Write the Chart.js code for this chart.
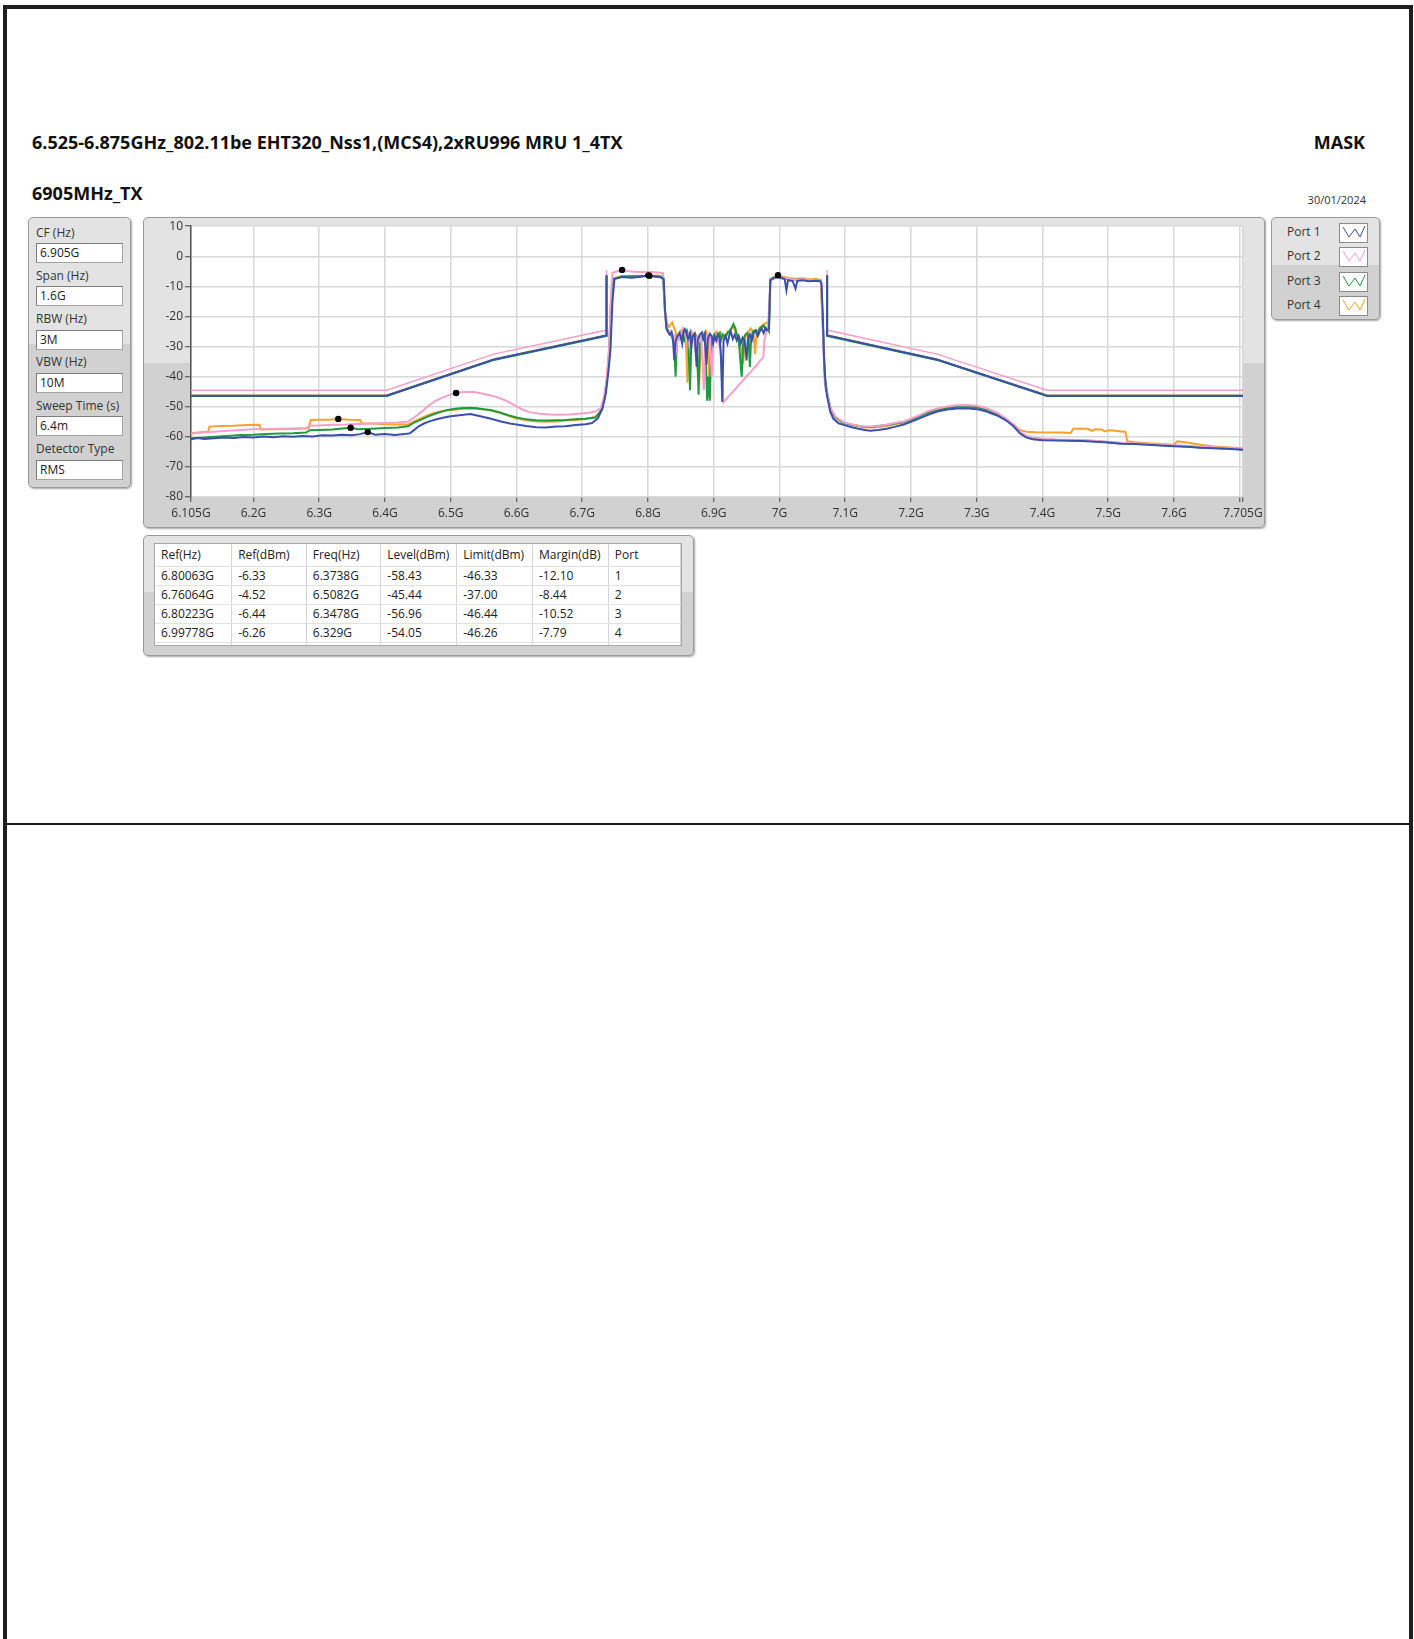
<!DOCTYPE html>
<html>
<head>
<meta charset="utf-8">
<script src="https://cdn.jsdelivr.net/npm/chart.js@4.4.1/dist/chart.umd.min.js"></script>
<style>
  html, body { margin: 0; padding: 0; background: #fff; }
  body { width: 1414px; height: 1639px; position: relative; overflow: hidden;
         font-family: "Open Sans", "Noto Sans", sans-serif; color: #222; }
  .frame { position: absolute; left: 3px; top: 5px; width: 1402px; height: 1650px;
           border: 4px solid #1e1e1e; border-bottom: none; }
  .divider { position: absolute; left: 7px; top: 823px; width: 1402px; height: 2px; background: #1e1e1e; }
  .txt { position: absolute; white-space: nowrap; line-height: 1; }
  .title { font-weight: 700; font-size: 18px; color: #111; }
  .panel { position: absolute; box-sizing: border-box; border: 1px solid #9a9a9a; border-radius: 5px;
           background: linear-gradient(#e3e3e3 0, #e3e3e3 47%, #d1d1d1 47%, #d1d1d1 100%);
           box-shadow: 1px 1px 2px rgba(0,0,0,0.35); }
  .plabel { position: absolute; left: 7px; font-size: 12px; color: #333; line-height: 1; }
  .pinput { position: absolute; left: 7px; width: 87px; height: 20px; box-sizing: border-box; background: #fff;
            border: 1px solid #a5a5a5; border-top-color: #7d7d7d; border-left-color: #7d7d7d;
            font-size: 12px; line-height: 18px; padding-left: 3px; color: #222; }
  .lgrow { position: absolute; left: 15px; font-size: 12px; color: #333; line-height: 1; }
  .lgsw { position: absolute; left: 67px; width: 29px; height: 20px; }
  #chartCanvas { position: absolute; left: 143px; top: 217px; }
  .tblwrap { position: absolute; left: 154px; top: 543px; width: 528px; height: 103px; background: #fff;
             border: 1px solid #a8a8a8; box-sizing: border-box; overflow: hidden; }
  table { border-collapse: collapse; table-layout: fixed; font-size: 12px; color: #222; }
  td { border-right: 1px solid #d4d4d4; border-bottom: 1px solid #e2e2e2; padding: 0 0 0 6px;
       height: 18px; line-height: 18px; white-space: nowrap; overflow: hidden; }
  tr.hdr td { height: 22px; line-height: 22px; }
</style>
</head>
<body>
<div class="frame"></div>
<div class="divider"></div>

<div class="txt title" style="left:32px; top:133px;">6.525-6.875GHz_802.11be EHT320_Nss1,(MCS4),2xRU996 MRU 1_4TX</div>
<div class="txt title" style="right:49px; top:133px;">MASK</div>
<div class="txt title" style="left:32px; top:184px;">6905MHz_TX</div>
<div class="txt" style="right:48px; top:194px; font-size:11px; color:#333;">30/01/2024</div>

<div class="panel" style="left:28px; top:217px; width:103px; height:271px;" id="paramPanel"></div>
<div class="panel" style="left:143px; top:217px; width:1122px; height:311px;"></div>
<div class="panel" style="left:1271px; top:217px; width:109px; height:103px;" id="legendPanel"></div>
<div class="panel" style="left:143px; top:535px; width:551px; height:121px;"></div>
<div class="tblwrap"><table id="markerTable"></table></div>

<canvas id="chartCanvas" width="1121" height="310"></canvas>

<script>
// ---- measurement settings (left panel) ----
const paramNames = ["CF (Hz)", "Span (Hz)", "RBW (Hz)", "VBW (Hz)", "Sweep Time (s)", "Detector Type"];
const paramValues = ["6.905G", "1.6G", "3M", "10M", "6.4m", "RMS"];

// ---- legend ----
const portNames = ["Port 1", "Port 2", "Port 3", "Port 4"];
const portColors = ["#3a51ab", "#f4a0c9", "#1f9a3e", "#f7a12e"];

// ---- marker table ----
const tblHeader = ["Ref(Hz)", "Ref(dBm)", "Freq(Hz)", "Level(dBm)", "Limit(dBm)", "Margin(dB)", "Port"];
const tblRefHz = ["6.80063G", "6.76064G", "6.80223G", "6.99778G"];
const tblRefDbm = [-6.33, -4.52, -6.44, -6.26];
const tblFreqHz = ["6.3738G", "6.5082G", "6.3478G", "6.329G"];
const tblLevel = [-58.43, -45.44, -56.96, -54.05];
const tblLimit = [-46.33, -37.00, -46.44, -46.26];
const tblMargin = [-12.10, -8.44, -10.52, -7.79];
const tblPort = [1, 2, 3, 4];

// marker positions in GHz (same values as the table)
const refMarkFreq = [6.80063, 6.76064, 6.80223, 6.99778];
const lvlMarkFreq = [6.3738, 6.5082, 6.3478, 6.329];

// ---- axes ----
const xTickValues = [6.105, 6.2, 6.3, 6.4, 6.5, 6.6, 6.7, 6.8, 6.9, 7.0, 7.1, 7.2, 7.3, 7.4, 7.5, 7.6, 7.7, 7.705];
const xTickLabels = ["6.105G", "6.2G", "6.3G", "6.4G", "6.5G", "6.6G", "6.7G", "6.8G", "6.9G", "7G",
                     "7.1G", "7.2G", "7.3G", "7.4G", "7.5G", "7.6G", "", "7.705G"];
const yTickValues = [10, 0, -10, -20, -30, -40, -50, -60, -70, -80];

// ---- spectrum mask (dB relative to each port's reference) ----
const maskFreq = [6.105, 6.4025, 6.5655, 6.737, 6.737, null, 7.0725, 7.0725, 7.2395, 7.407, 7.705];
const maskDbr = [-40, -40, -28, -20, 0, null, 0, -20, -28, -40, -40];

// ---- traces [GHz, dBm] ----
const port1Trace = [
  [6.105,-60.8],[6.115,-60.4],[6.125,-60.7],[6.14,-60.5],[6.155,-60.2],[6.17,-60.4],[6.185,-60.1],[6.2,-60.2],
  [6.215,-59.9],[6.23,-60.1],[6.245,-59.8],[6.26,-60.0],[6.275,-59.7],[6.29,-59.9],[6.305,-59.5],[6.32,-59.6],
  [6.335,-59.3],[6.35,-59.5],[6.362,-59.1],[6.3738,-58.43],[6.385,-59.3],[6.4,-59.1],[6.415,-59.4],[6.43,-59.1],
  [6.438,-58.8],[6.445,-57.6],[6.452,-56.4],[6.46,-55.5],[6.47,-54.7],[6.48,-54.1],[6.49,-53.6],[6.5,-53.2],
  [6.51,-52.9],[6.52,-52.7],[6.53,-52.4],[6.54,-52.9],[6.55,-53.4],[6.56,-53.9],[6.575,-54.8],[6.59,-55.6],
  [6.6,-55.9],[6.615,-56.4],[6.63,-56.8],[6.645,-56.9],[6.66,-56.6],[6.675,-56.5],[6.69,-56.1],[6.705,-55.8],
  [6.715,-55.4],[6.724,-53.8],[6.731,-50.5],[6.736,-45.5],[6.740,-38],[6.743,-31],[6.746,-15],[6.749,-7.6],
  [6.76,-6.9],[6.775,-7.1],[6.79,-6.8],[6.80063,-6.33],[6.81,-6.8],[6.818,-6.9],[6.824,-7.6],[6.826,-18],[6.828,-24],
  [6.830,-25.0],[6.833,-26.0],[6.836,-25.2],[6.838,-27.5],[6.840,-34.5],[6.842,-28],[6.845,-26.5],[6.848,-25.5],
  [6.850,-27],[6.852,-29],[6.854,-25],[6.856,-24.2],[6.859,-26],[6.861,-27.5],[6.864,-25.5],[6.866,-30],
  [6.868,-26.5],[6.871,-25.8],[6.874,-36.8],[6.876,-27.5],[6.879,-26],[6.882,-25.3],[6.884,-27.5],[6.886,-26.2],
  [6.889,-36],[6.891,-27.5],[6.894,-25.8],[6.897,-26.5],[6.899,-29],[6.901,-27],[6.904,-28],[6.906,-26],
  [6.909,-27],[6.911,-33],[6.913,-48.4],[6.915,-28],[6.918,-26.5],[6.921,-29],[6.924,-26],[6.926,-25],
  [6.929,-27.5],[6.932,-26],[6.935,-28],[6.938,-26.5],[6.941,-29],[6.944,-27],[6.947,-28],[6.950,-34.6],
  [6.952,-27.5],[6.955,-26],[6.958,-28],[6.961,-25.5],[6.964,-24.8],[6.967,-26.5],[6.970,-25],[6.973,-24],
  [6.976,-25.5],[6.979,-23.8],[6.981,-24.5],[6.984,-24.2],[6.986,-8],[6.990,-7.2],[6.9978,-6.9],[7.004,-7.3],
  [7.008,-7.6],[7.0106,-11.3],[7.013,-8.0],[7.020,-8.2],[7.0244,-10.8],[7.027,-8.2],[7.035,-8.0],[7.045,-8.3],
  [7.055,-8.1],[7.062,-8.3],[7.064,-9],[7.066,-20],[7.068,-35],[7.0705,-44],[7.073,-47],[7.077,-51.5],
  [7.082,-54],[7.09,-55.5],[7.1,-56.2],[7.11,-56.8],[7.12,-57.3],[7.13,-57.7],[7.138,-58.0],[7.15,-57.7],
  [7.163,-57.3],[7.175,-56.7],[7.189,-55.9],[7.2,-55.0],[7.214,-53.8],[7.227,-52.6],[7.24,-51.6],[7.255,-50.9],
  [7.27,-50.6],[7.285,-50.5],[7.3,-50.8],[7.315,-51.6],[7.331,-52.9],[7.345,-54.6],[7.356,-56.5],[7.366,-58.9],
  [7.375,-60.2],[7.385,-60.8],[7.4,-61.1],[7.42,-61.2],[7.44,-61.3],[7.46,-61.4],[7.48,-61.6],[7.5,-61.9],
  [7.52,-62.3],[7.54,-62.4],[7.56,-62.6],[7.58,-62.9],[7.6,-63.1],[7.62,-63.3],[7.64,-63.6],[7.66,-63.8],
  [7.68,-64.0],[7.705,-64.3]
];

const port2Trace = [
  [6.105,-59.0],[6.12,-58.6],[6.14,-58.3],[6.16,-58.0],[6.18,-57.7],[6.2,-57.5],[6.22,-57.4],[6.24,-57.3],
  [6.26,-57.2],[6.28,-57.1],[6.286,-56.3],[6.3,-56.2],[6.32,-56.0],[6.34,-55.9],[6.36,-55.7],[6.38,-55.6],
  [6.4,-55.4],[6.42,-55.2],[6.435,-54.9],[6.445,-53.5],[6.455,-51.8],[6.465,-49.9],[6.475,-48.3],[6.485,-47.2],
  [6.495,-46.3],[6.5082,-45.44],[6.52,-45.1],[6.53,-45.0],[6.54,-45.3],[6.55,-45.8],[6.56,-46.2],[6.57,-46.8],
  [6.58,-47.6],[6.59,-48.6],[6.6,-49.9],[6.61,-51.0],[6.62,-51.8],[6.635,-52.3],[6.65,-52.6],[6.665,-52.7],
  [6.68,-52.6],[6.695,-52.3],[6.71,-52.0],[6.72,-51.6],[6.728,-50.5],[6.733,-47],[6.737,-41],[6.741,-30],
  [6.744,-12],[6.746,-5.5],[6.76064,-4.52],[6.77,-5.0],[6.785,-5.2],[6.8,-5.1],[6.815,-5.4],[6.823,-5.6],
  [6.826,-20],[6.829,-24.5],[6.832,-25.5],[6.835,-24.8],[6.838,-27],[6.841,-26],[6.843,-31],[6.846,-26.5],
  [6.848,-27.5],[6.851,-25],[6.853,-24],[6.856,-25.5],[6.858,-27],[6.861,-26],[6.863,-29.5],[6.866,-26.5],
  [6.868,-27.5],[6.870,-26],[6.872,-32],[6.874,-27],[6.877,-26.5],[6.879,-28],[6.881,-27],[6.883,-36],
  [6.885,-44.5],[6.887,-29],[6.889,-27],[6.892,-28],[6.894,-26.5],[6.897,-40],[6.899,-29],[6.901,-27.5],
  [6.904,-28.5],[6.906,-27],[6.908,-29],[6.910,-31],[6.912,-38],[6.9147,-48.5],[6.92,-47.2],[6.925,-46.0],
  [6.93,-44.9],[6.935,-43.6],[6.94,-42.3],[6.945,-41.2],[6.95,-39.8],[6.955,-38.8],[6.96,-37.4],[6.965,-36.3],
  [6.97,-34.9],[6.9756,-33.5],[6.977,-28],[6.979,-26],[6.982,-24.5],[6.985,-15],[6.987,-7.5],[6.995,-7.0],
  [7.005,-7.2],[7.015,-7.5],[7.025,-7.8],[7.035,-7.6],[7.045,-7.9],[7.055,-7.9],[7.063,-8.2],[7.066,-25],
  [7.069,-42],[7.073,-46],[7.078,-50.5],[7.085,-53.3],[7.095,-54.8],[7.1,-55.3],[7.11,-55.8],[7.12,-56.3],
  [7.13,-56.6],[7.14,-56.6],[7.15,-56.4],[7.163,-56.0],[7.175,-55.4],[7.189,-54.9],[7.2,-54.0],[7.214,-52.7],
  [7.227,-51.4],[7.24,-50.6],[7.255,-49.9],[7.27,-49.5],[7.285,-49.4],[7.3,-49.7],[7.315,-50.5],[7.331,-52.0],
  [7.345,-54.0],[7.356,-56.0],[7.366,-58.3],[7.375,-59.6],[7.385,-60.3],[7.4,-60.6],[7.42,-60.9],[7.44,-61.0],
  [7.46,-61.1],[7.48,-61.3],[7.5,-61.6],[7.52,-62.0],[7.54,-62.1],[7.56,-62.3],[7.58,-62.6],[7.6,-62.8],
  [7.62,-63.0],[7.64,-63.3],[7.66,-63.5],[7.68,-63.7],[7.705,-63.9]
];

const port3Trace = [
  [6.105,-60.5],[6.12,-60.3],[6.14,-60.0],[6.16,-59.7],[6.18,-59.4],[6.2,-59.3],[6.22,-59.1],[6.24,-58.9],
  [6.26,-58.8],[6.28,-58.6],[6.286,-57.8],[6.3,-57.7],[6.32,-57.6],[6.3478,-56.96],[6.36,-57.5],[6.38,-57.3],
  [6.4,-57.1],[6.42,-56.9],[6.435,-56.5],[6.445,-55.2],[6.455,-54.3],[6.465,-53.3],[6.475,-52.4],[6.485,-51.7],
  [6.495,-51.1],[6.51,-50.6],[6.52,-50.4],[6.53,-50.3],[6.54,-50.5],[6.55,-50.8],[6.56,-51.1],[6.575,-51.9],
  [6.59,-53.0],[6.6,-53.6],[6.615,-54.2],[6.63,-54.5],[6.645,-54.6],[6.66,-54.5],[6.675,-54.4],[6.69,-54.2],
  [6.705,-54.0],[6.72,-53.6],[6.728,-51.5],[6.734,-47],[6.738,-40],[6.741,-32],[6.744,-14],[6.747,-7.6],
  [6.76,-6.7],[6.78,-6.6],[6.80223,-6.44],[6.815,-6.6],[6.823,-7.0],[6.826,-19],[6.829,-24],[6.832,-25],
  [6.835,-26.2],[6.837,-27],[6.840,-30],[6.842,-40],[6.844,-28],[6.847,-26.5],[6.850,-25.5],[6.852,-27],
  [6.855,-28],[6.857,-25],[6.859,-24.5],[6.861,-26],[6.864,-44.5],[6.866,-28],[6.869,-26.5],[6.872,-25.8],
  [6.874,-27.5],[6.877,-46],[6.879,-28.5],[6.882,-26.5],[6.885,-27],[6.887,-26],[6.890,-48],[6.892,-40],
  [6.894,-48],[6.896,-31],[6.899,-27],[6.901,-26],[6.904,-27.5],[6.906,-26.5],[6.909,-25.5],[6.911,-28],
  [6.914,-26],[6.918,-27],[6.921,-25.5],[6.925,-24.5],[6.928,-23.5],[6.93,-22.5],[6.933,-24],[6.935,-26],
  [6.938,-28],[6.9426,-40],[6.945,-28],[6.948,-26],[6.951,-25.5],[6.953,-27],[6.955,-36.8],[6.957,-27],
  [6.960,-25],[6.964,-24.5],[6.967,-25.5],[6.97,-24],[6.973,-23.5],[6.976,-23],[6.979,-24.5],[6.981,-24],
  [6.984,-25],[6.986,-8.0],[6.995,-7.0],[7.005,-7.3],[7.015,-7.6],[7.025,-7.8],[7.035,-7.7],[7.045,-8.0],
  [7.055,-8.0],[7.063,-8.3],[7.066,-22],[7.069,-40],[7.073,-46],[7.078,-50.8],[7.085,-53.5],[7.095,-55.0],
  [7.1,-55.5],[7.11,-56.0],[7.12,-56.4],[7.13,-56.7],[7.14,-56.7],[7.15,-56.4],[7.163,-56.1],[7.175,-55.6],
  [7.189,-55.2],[7.2,-54.4],[7.214,-53.1],[7.227,-51.9],[7.24,-51.1],[7.255,-50.4],[7.27,-50.0],[7.285,-49.9],
  [7.3,-50.2],[7.315,-51.0],[7.331,-52.4],[7.345,-54.3],[7.356,-56.3],[7.366,-58.6],[7.375,-59.9],[7.385,-60.5],
  [7.4,-60.8],[7.42,-61.0],[7.44,-61.1],[7.46,-61.2],[7.48,-61.4],[7.5,-61.8],[7.52,-62.2],[7.54,-62.3],
  [7.56,-62.5],[7.58,-62.8],[7.6,-63.0],[7.62,-63.2],[7.64,-63.5],[7.66,-63.7],[7.68,-63.9],[7.705,-64.2]
];

const port4Trace = [
  [6.105,-58.8],[6.12,-58.5],[6.131,-58.3],[6.133,-56.6],[6.15,-56.4],[6.17,-56.3],[6.19,-56.1],[6.209,-56.0],
  [6.212,-57.6],[6.23,-57.5],[6.25,-57.4],[6.27,-57.3],[6.284,-57.2],[6.287,-54.4],[6.3,-54.3],[6.315,-54.3],
  [6.329,-54.05],[6.345,-54.3],[6.362,-54.4],[6.365,-55.5],[6.38,-55.6],[6.4,-55.8],[6.42,-55.9],[6.435,-55.9],
  [6.445,-54.8],[6.455,-53.8],[6.465,-52.8],[6.475,-52.1],[6.485,-51.6],[6.495,-51.2],[6.51,-50.9],[6.52,-50.7],
  [6.53,-50.6],[6.54,-50.7],[6.55,-50.9],[6.56,-51.2],[6.575,-52.0],[6.59,-53.2],[6.6,-53.9],[6.615,-54.5],
  [6.63,-54.9],[6.645,-55.0],[6.66,-54.9],[6.675,-54.6],[6.69,-54.4],[6.705,-54.1],[6.72,-53.4],[6.728,-51.5],
  [6.734,-47.5],[6.738,-40],[6.741,-31],[6.744,-13],[6.747,-7.3],[6.76,-6.6],[6.78,-6.5],[6.8,-6.6],
  [6.815,-6.4],[6.823,-6.8],[6.826,-18],[6.829,-22.5],[6.832,-23.5],[6.835,-22.5],[6.837,-22],[6.840,-24],
  [6.842,-25],[6.844,-27.5],[6.846,-26.5],[6.849,-25],[6.851,-26.5],[6.853,-25],[6.855,-24.5],[6.858,-30],
  [6.860,-42],[6.862,-27],[6.864,-26],[6.866,-25],[6.868,-26],[6.871,-25.5],[6.873,-27],[6.876,-38],
  [6.878,-42.5],[6.880,-28],[6.883,-26],[6.885,-25.5],[6.888,-24.8],[6.890,-26],[6.892,-30],[6.894,-47.5],
  [6.896,-29],[6.899,-27],[6.901,-26.5],[6.904,-25],[6.906,-25.5],[6.909,-26.5],[6.911,-25.5],[6.914,-27],
  [6.918,-26.5],[6.921,-25],[6.924,-25.5],[6.927,-24],[6.93,-23.5],[6.933,-25],[6.936,-26],[6.939,-27],
  [6.942,-31],[6.945,-35.7],[6.947,-28],[6.950,-26],[6.953,-25],[6.956,-24],[6.958,-24.5],[6.961,-27],
  [6.963,-32.5],[6.965,-26],[6.968,-24.5],[6.971,-23.5],[6.974,-23],[6.976,-22.5],[6.979,-22.3],[6.981,-22],
  [6.984,-23.5],[6.986,-7.5],[6.99778,-6.26],[7.005,-6.8],[7.015,-7.2],[7.025,-7.5],[7.035,-7.3],[7.045,-7.6],
  [7.055,-7.5],[7.063,-7.9],[7.066,-24],[7.069,-41],[7.073,-46.5],[7.078,-51],[7.085,-53.6],[7.095,-55.0],
  [7.1,-55.5],[7.11,-56.0],[7.12,-56.4],[7.13,-56.8],[7.14,-56.9],[7.15,-56.7],[7.163,-56.4],[7.175,-55.8],
  [7.189,-55.2],[7.2,-54.3],[7.214,-53.0],[7.227,-51.8],[7.24,-51.0],[7.255,-50.3],[7.27,-49.9],[7.285,-49.8],
  [7.3,-50.1],[7.315,-50.9],[7.331,-52.3],[7.345,-54.1],[7.356,-56.0],[7.366,-57.8],[7.376,-58.3],[7.39,-58.5],
  [7.41,-58.6],[7.43,-58.6],[7.443,-58.7],[7.447,-57.3],[7.46,-57.2],[7.47,-57.4],[7.475,-58.0],[7.48,-57.5],
  [7.49,-57.6],[7.495,-58.2],[7.5,-57.8],[7.51,-58.0],[7.52,-58.2],[7.526,-58.3],[7.529,-61.5],[7.54,-61.8],
  [7.56,-62.1],[7.58,-62.4],[7.6,-62.6],[7.605,-61.5],[7.62,-61.9],[7.64,-62.6],[7.66,-63.2],[7.68,-63.5],
  [7.705,-63.9]
];

const traces = [port1Trace, port2Trace, port3Trace, port4Trace];

// ---- build the HTML side panels ----
const paramPanel = document.getElementById("paramPanel");
paramNames.forEach((name, i) => {
  const top = 8.5 + i * 43.3;
  paramPanel.insertAdjacentHTML("beforeend",
    `<div class="plabel" style="top:${top}px">${name}</div>` +
    `<div class="pinput" style="top:${top + 16.5}px">${paramValues[i]}</div>`);
});

const legendPanel = document.getElementById("legendPanel");
portNames.forEach((name, i) => {
  const cy = 15 + i * 24.3;
  legendPanel.insertAdjacentHTML("beforeend",
    `<div class="lgrow" style="top:${cy - 7}px">${name}</div>` +
    `<svg class="lgsw" style="top:${cy - 10}px" width="29" height="20">
       <rect x="0.5" y="0.5" width="28" height="19" fill="#fff" stroke="#8a8a8a"/>
       <polyline points="4,4 10,14 16,6 21,14 26,3" fill="none" stroke="${portColors[i]}" stroke-width="1"/>
     </svg>`);
});

const colW = [77, 75, 75, 76, 76, 76, 73];
let html = "<colgroup>" + colW.map(w => `<col style="width:${w}px">`).join("") + "</colgroup>";
html += `<tr class="hdr">${tblHeader.map(h => `<td>${h}</td>`).join("")}</tr>`;
for (let i = 0; i < tblPort.length; i++) {
  html += `<tr><td>${tblRefHz[i]}</td><td>${tblRefDbm[i].toFixed(2)}</td><td>${tblFreqHz[i]}</td>` +
          `<td>${tblLevel[i].toFixed(2)}</td><td>${tblLimit[i].toFixed(2)}</td><td>${tblMargin[i].toFixed(2)}</td>` +
          `<td>${tblPort[i]}</td></tr>`;
}
html += `<tr>${colW.map(() => "<td></td>").join("")}</tr>`;
document.getElementById("markerTable").innerHTML = html;

// ---- chart ----
const toXY = (arr) => arr.map(([x, y]) => ({ x, y }));
const limitFor = (ref) => maskFreq.map((f, i) => ({ x: f === null ? NaN : f, y: maskDbr[i] === null ? null : ref + maskDbr[i] }));

const markerPoints = [];
for (let i = 0; i < tblPort.length; i++) {
  markerPoints.push({ x: refMarkFreq[i], y: tblRefDbm[i] });
  markerPoints.push({ x: lvlMarkFreq[i], y: tblLevel[i] });
}

const datasets = [
  { label: "markers", data: markerPoints, showLine: false, pointRadius: 3.2, pointBackgroundColor: "#000",
    pointBorderWidth: 0 },
];
traces.forEach((t, i) => datasets.push({
  label: portNames[i], data: toXY(t), borderColor: portColors[i], borderWidth: 2,
  pointRadius: 0, showLine: true, tension: 0,
}));
[0, 2, 3, 1].forEach((i) => datasets.push({
  label: portNames[i] + " limit", data: limitFor(tblRefDbm[i]), borderColor: portColors[i],
  borderWidth: i === 1 ? 1.5 : 2, pointRadius: 0, showLine: true, spanGaps: false,
}));

const plotBg = {
  id: "plotBg",
  beforeDraw(chart) {
    const { ctx, chartArea: a } = chart;
    ctx.save();
    ctx.fillStyle = "#fff";
    ctx.fillRect(a.left, a.top, a.right - a.left, a.bottom - a.top);
    ctx.restore();
  },
};

const tickFont = { family: "'Open Sans', 'Noto Sans', sans-serif", size: 12 };

new Chart(document.getElementById("chartCanvas"), {
  type: "scatter",
  data: { datasets },
  plugins: [plotBg],
  options: {
    responsive: false,
    animation: false,
    devicePixelRatio: 1,
    layout: { padding: { left: 0, right: 21, top: 9, bottom: 0 } },
    plugins: { legend: { display: false }, tooltip: { enabled: false } },
    scales: {
      x: {
        type: "linear", min: 6.105, max: 7.705,
        afterBuildTicks: (s) => { s.ticks = xTickValues.map(v => ({ value: v })); },
        afterFit: (s) => { s.height = 30; s.paddingLeft = 0; s.paddingRight = 0; },
        ticks: { autoSkip: false, maxRotation: 0, padding: 4, color: "#333", font: tickFont,
                 callback: (v, i) => xTickLabels[i] },
        grid: { color: "#d8d8d8", lineWidth: 1.5, tickLength: 5, tickColor: "#444", tickWidth: 1 },
        border: { display: false },
      },
      y: {
        min: -80, max: 10,
        afterBuildTicks: (s) => { s.ticks = yTickValues.map(v => ({ value: v })); },
        afterFit: (s) => { s.width = 48; },
        ticks: { padding: 2, color: "#333", font: tickFont },
        grid: { color: "#d8d8d8", lineWidth: 1.5, tickLength: 6, tickColor: "#444", tickWidth: 1 },
        border: { display: true, color: "#555", width: 1.5 },
      },
    },
  },
});
</script>
</body>
</html>
